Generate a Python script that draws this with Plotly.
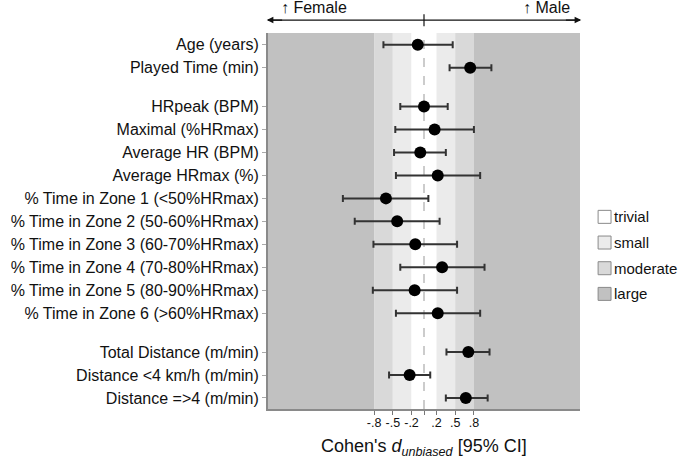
import plotly.graph_objects as go

# Data
groups = [
    ["Age (years)", "Played Time (min)"],
    ["HRpeak (BPM)", "Maximal (%HRmax)", "Average HR (BPM)", "Average HRmax (%)",
     "% Time in Zone 1 (<50%HRmax)", "% Time in Zone 2 (50-60%HRmax)",
     "% Time in Zone 3 (60-70%HRmax)", "% Time in Zone 4 (70-80%HRmax)",
     "% Time in Zone 5 (80-90%HRmax)", "% Time in Zone 6 (>60%HRmax)"],
    ["Total Distance (m/min)", "Distance <4 km/h (m/min)", "Distance =>4 (m/min)"],
]
d_value = [-0.10, 0.74, 0.00, 0.17, -0.06, 0.22, -0.61, -0.43, -0.14, 0.29, -0.15, 0.22, 0.71, -0.23, 0.67]
ci_low = [-0.65, 0.41, -0.38, -0.46, -0.48, -0.45, -1.30, -1.11, -0.81, -0.38, -0.82, -0.45, 0.36, -0.56, 0.35]
ci_high = [0.46, 1.08, 0.38, 0.80, 0.35, 0.90, 0.07, 0.25, 0.53, 0.97, 0.53, 0.90, 1.05, 0.10, 1.02]

band_edges = [-2.5, -0.8, -0.5, -0.2, 0.2, 0.5, 0.8, 2.5]
band_colors = ["#c1c1c1", "#d9d9d9", "#ebebeb", "#ffffff", "#ebebeb", "#d9d9d9", "#c1c1c1"]
legend_labels = ["trivial", "small", "moderate", "large"]
legend_colors = ["#ffffff", "#ebebeb", "#d9d9d9", "#c1c1c1"]
x_tickvals = [-0.8, -0.5, -0.2, 0, 0.2, 0.5, 0.8]
x_ticktext = ["-.8", "-.5", "-.2", "", ".2", ".5", ".8"]

# positions with group gaps
GAP = 1.69
labels, ypos = [], []
cur = 0.0
for gi, g in enumerate(groups):
    if gi > 0:
        cur += GAP - 1
    for lab in g:
        labels.append(lab)
        ypos.append(cur)
        cur += 1
ymax = ypos[-1] + 0.48
ymin = -0.51

fig = go.Figure()

shapes = []
for i in range(len(band_colors)):
    shapes.append(dict(type="rect", xref="x", yref="paper", x0=band_edges[i], x1=band_edges[i + 1],
                       y0=0, y1=1, fillcolor=band_colors[i], line=dict(width=0), layer="below"))
shapes.append(dict(type="line", xref="x", yref="paper", x0=0, x1=0, y0=0, y1=1,
                   line=dict(color="#999999", width=1, dash="dash"), layer="below"))
# top arrow line and centre tick
shapes.append(dict(type="line", xref="x", yref="paper", x0=-2.5, x1=2.5, y0=1.0345, y1=1.0345,
                   line=dict(color="#111111", width=1.2)))
shapes.append(dict(type="line", xref="x", yref="paper", x0=0, x1=0, y0=1.018, y1=1.050,
                   line=dict(color="#111111", width=1.2)))
# legend boxes
annotations = []
for i, (lab, col) in enumerate(zip(legend_labels, legend_colors)):
    py = 217 + i * 25.7
    yc = 1 - (py - 33) / 376.3
    h = 6.5 / 376.3
    shapes.append(dict(type="rect", xref="paper", yref="paper", x0=1.058, x1=1.0995,
                       y0=yc - h, y1=yc + h, fillcolor=col, line=dict(color="#8a8a8a", width=1)))
    annotations.append(dict(xref="paper", yref="paper", x=1.104, y=yc, text=lab, showarrow=False,
                            xanchor="left", yanchor="middle", font=dict(size=15, color="#111111")))

fig.add_trace(go.Scatter(
    x=d_value, y=ypos, mode="markers",
    marker=dict(color="black", size=12),
    error_x=dict(type="data", symmetric=False,
                 array=[h_ - v for h_, v in zip(ci_high, d_value)],
                 arrayminus=[v - l for l, v in zip(ci_low, d_value)],
                 color="#333333", thickness=2, width=3.5),
    showlegend=False, hoverinfo="skip"))

# arrowheads at both ends of the top line
for xe in [-2.5, 2.5]:
    annotations.append(dict(x=xe * 1.008, y=1.0345, xref="x", yref="paper", ax=xe * 0.9, ay=0,
                            axref="x", ayref="pixel", text="", showarrow=True,
                            arrowhead=2, arrowsize=1.1, arrowwidth=1.2, arrowcolor="#111111"))
annotations.append(dict(xref="paper", yref="paper", x=0.035, y=1.068, text="↑ Female",
                        showarrow=False, xanchor="left", yanchor="middle",
                        font=dict(size=16, color="#111111")))
annotations.append(dict(xref="paper", yref="paper", x=0.975, y=1.068, text="↑ Male",
                        showarrow=False, xanchor="right", yanchor="middle",
                        font=dict(size=16, color="#111111")))
annotations.append(dict(xref="x", yref="paper", x=0, y=-0.103,
                        text="Cohen's <i>d</i><sub><i>unbiased</i></sub> [95% CI]",
                        showarrow=False, xanchor="center", yanchor="middle",
                        font=dict(size=18, color="#111111")))

fig.update_layout(
    width=682, height=463,
    margin=dict(l=268, r=102, t=33, b=54),
    plot_bgcolor="white", paper_bgcolor="white",
    font=dict(family="Liberation Sans, Arial, sans-serif", color="#111111"),
    shapes=shapes, annotations=annotations,
    xaxis=dict(range=[-2.5, 2.5], tickvals=x_tickvals, ticktext=x_ticktext,
               ticks="outside", ticklen=4, tickcolor="#777777", showgrid=False, zeroline=False,
               showline=True, linecolor="#8a8a8a", linewidth=2, ticklabelstandoff=-3,
               tickfont=dict(size=12.5, color="#111111")),
    yaxis=dict(range=[ymax, ymin], tickvals=ypos, ticktext=labels,
               ticks="outside", ticklen=4, tickcolor="#aaaaaa", showgrid=False, zeroline=False,
               showline=True, linecolor="#8a8a8a", linewidth=2,
               tickfont=dict(size=16, color="#111111")),
)

fig.write_html("out.html")
